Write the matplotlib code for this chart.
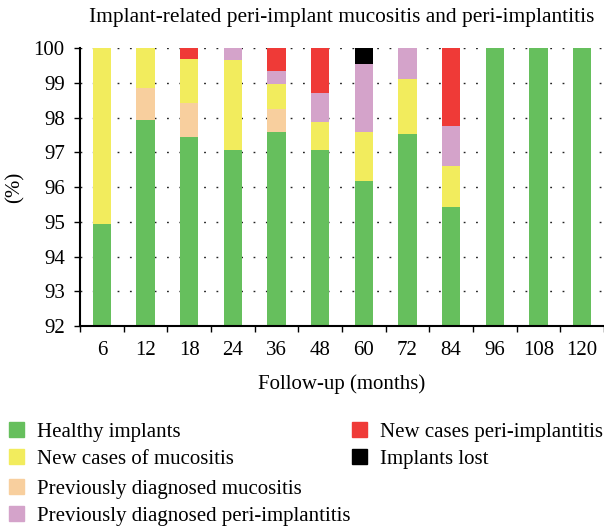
import numpy as np
import matplotlib.pyplot as plt
from matplotlib.patches import Patch

plt.rcParams['font.family'] = ['Liberation Serif', 'DejaVu Serif']

# Data (percent of implants per follow-up visit)
months = ['6', '12', '18', '24', '36', '48', '60', '72', '84', '96', '108', '120']
healthy = [94.94, 97.93, 97.44, 97.07, 97.58, 97.07, 96.17, 97.53, 95.42, 100, 100, 100]
prev_mucositis = [0, 0.92, 0.98, 0, 0.66, 0, 0, 0, 0, 0, 0, 0]
new_mucositis = [5.06, 1.15, 1.26, 2.58, 0.72, 0.80, 1.41, 1.58, 1.18, 0, 0, 0]
prev_periimpl = [0, 0, 0, 0.35, 0.38, 0.84, 1.96, 0.89, 1.16, 0, 0, 0]
new_periimpl = [0, 0, 0.32, 0, 0.66, 1.29, 0, 0, 2.24, 0, 0, 0]
lost = [0, 0, 0, 0, 0, 0, 0.46, 0, 0, 0, 0, 0]

colors = {
    'healthy': '#66bf5d',
    'new_muc': '#f2ec5d',
    'prev_muc': '#f8cf9e',
    'prev_peri': '#d4a3ca',
    'new_peri': '#ef3a37',
    'lost': '#000000',
}

FS = 15

fig = plt.figure(figsize=(6.04, 5.31), dpi=100)
ax = fig.add_axes([0.1325, 0.386, 0.8675, 0.5235])

x = np.arange(len(months))
w = 0.42
bottom = np.zeros(len(months))
stack = [
    (healthy, colors['healthy']),
    (prev_mucositis, colors['prev_muc']),
    (new_mucositis, colors['new_muc']),
    (prev_periimpl, colors['prev_peri']),
    (new_periimpl, colors['new_peri']),
    (lost, colors['lost']),
]
for vals, c in stack:
    vals = np.array(vals)
    ax.bar(x, vals, w, bottom=bottom, color=c, zorder=2)
    bottom += vals

ax.set_xlim(-0.5, len(months) - 0.5)
ax.set_ylim(92, 100)
ax.set_yticks(range(92, 101))
ax.set_xticks(x)
ax.set_xticklabels(months)
ax.set_xticks(np.arange(len(months) + 1) - 0.5, minor=True)
ax.tick_params(axis='x', which='major', length=0, pad=11, labelsize=FS)
ax.tick_params(axis='x', which='minor', length=4, width=1)
ax.tick_params(axis='y', length=4, width=1, labelsize=FS, pad=7)

ax.yaxis.grid(True, linestyle=(0, (1.3, 7.6)), linewidth=1.0, color='#222222')
ax.set_axisbelow(True)
for s in ['top', 'right']:
    ax.spines[s].set_visible(False)
ax.spines['left'].set_linewidth(1.5)
ax.spines['bottom'].set_linewidth(1.5)

ax.set_title('Implant-related peri-implant mucositis and peri-implantitis', fontsize=15.4, pad=19)
ax.set_xlabel('Follow-up (months)', fontsize=FS, labelpad=10)
ax.set_ylabel('(%)', fontsize=FS, va='center')
ax.yaxis.set_label_coords(-0.124, 0.5)

h_left = [Patch(color=colors['healthy'], label='Healthy implants'),
          Patch(color=colors['new_muc'], label='New cases of mucositis')]
h_right = [Patch(color=colors['new_peri'], label='New cases peri-implantitis'),
           Patch(color=colors['lost'], label='Implants lost')]
h_low = [Patch(color=colors['prev_muc'], label='Previously diagnosed mucositis'),
         Patch(color=colors['prev_peri'], label='Previously diagnosed peri-implantitis')]

leg_kw = dict(loc='upper left', frameon=False, fontsize=FS, handlelength=0.72,
              handleheight=0.72, handletextpad=0.62, labelspacing=0.35,
              borderpad=0, borderaxespad=0)
fig.legend(handles=h_left, bbox_to_anchor=(0.0149, 0.2053), **leg_kw)
fig.legend(handles=h_right, bbox_to_anchor=(0.5828, 0.2053), **leg_kw)
fig.legend(handles=h_low, bbox_to_anchor=(0.0149, 0.098), **leg_kw)

fig.savefig('out.png', dpi=100)
